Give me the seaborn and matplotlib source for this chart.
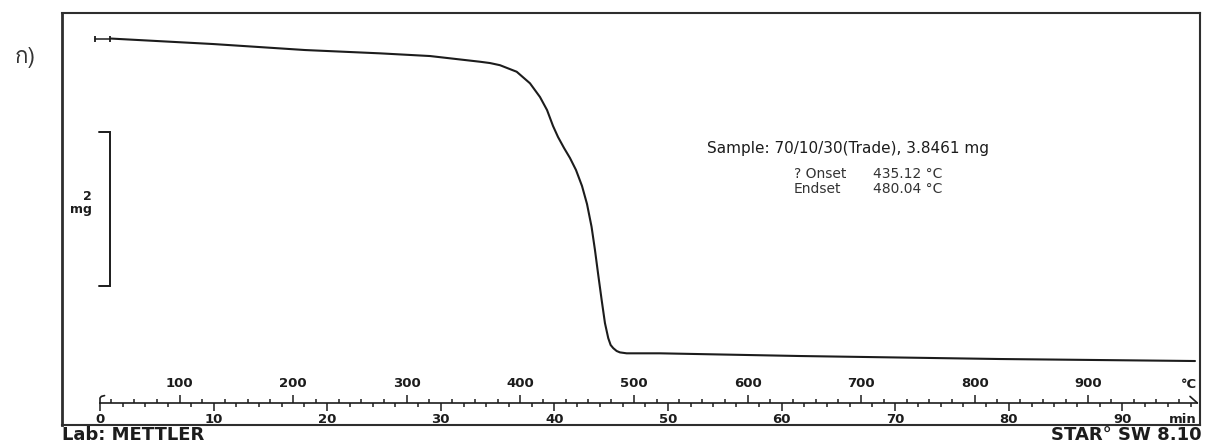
import numpy as np
import pandas as pd
import matplotlib
matplotlib.use("Agg")
import matplotlib.pyplot as plt
import seaborn as sns
from matplotlib import font_manager
from matplotlib.ft2font import FT2Font
from matplotlib.ticker import FixedLocator

# ---- TGA data: sample 70/10/30 (Trade) -------------------------------------
temperature_c = [39.7, 129.5, 210.5, 276.5, 320.5, 364.5, 373.3, 382.1, 396.8,
                 408.5, 417.3, 423.5, 428.8, 433.2, 438.5, 443.7, 449.0, 454.3,
                 458.7, 462.7, 465.7, 468.6, 471.6, 474.5, 477.4, 479.5, 481.8,
                 484.8, 487.7, 493.6, 522.9, 646.0, 822.0, 993.9]
mass_mg = [4.406, 4.335, 4.257, 4.214, 4.179, 4.105, 4.088, 4.060, 3.975,
           3.825, 3.647, 3.478, 3.270, 3.127, 2.984, 2.855, 2.699, 2.491,
           2.257, 1.962, 1.660, 1.335, 1.010, 0.710, 0.515, 0.426, 0.385,
           0.348, 0.330, 0.318, 0.318, 0.283, 0.244, 0.218]

temp_major = [100, 200, 300, 400, 500, 600, 700, 800, 900]
time_major = [0, 10, 20, 30, 40, 50, 60, 70, 80, 90]
start_temp = 30.0        # °C at t = 0
heating_rate = 10.0      # °C / min
scale_end_temp = 996.0   # end of the temperature/time scale
scale_bar_mg = 2.0
scale_bar_bottom = 1.19

sample_label = "Sample: 70/10/30(Trade), 3.8461 mg"
onset_label, onset_value = "? Onset", "435.12 °C"
endset_label, endset_value = "Endset", "480.04 °C"

# ---- style -----------------------------------------------------------------
sns.set_style("white")
plt.rcParams["font.family"] = ["DejaVu Sans"]
INK = "#1c1c1c"
FRAME = "#2e2e2e"

W, H = 1205, 444
fig = plt.figure(figsize=(W / 100, H / 100), dpi=100)
fig.patch.set_facecolor("white")


def fx(px):
    return px / W


def fy(py):
    return 1 - py / H


# plotting frame
left, right, top, bottom = 62, 1200, 13, 425
ax = fig.add_axes([fx(left), fy(bottom), fx(right - left), (bottom - top) / H])

df = pd.DataFrame({"Temperature (°C)": temperature_c, "Mass (mg)": mass_mg})
sns.lineplot(data=df, x="Temperature (°C)", y="Mass (mg)", ax=ax,
             color=INK, linewidth=1.5, sort=False)

ax.set_xlim(-3.45, 998.3)
ax.set_ylim(-0.613, 4.738)
ax.set_xticks([])
ax.set_yticks([])
ax.set_xlabel("")
ax.set_ylabel("")
for name, sp in ax.spines.items():
    sp.set_visible(True)
    sp.set_color(FRAME)
    sp.set_linewidth(1.5 if name != "left" else 2.0)

# start marker on the curve
m0 = mass_mg[0]
ax.plot([temperature_c[0] - 14.5, temperature_c[0] - 1.0], [m0, m0],
        color=INK, linewidth=1.1, marker="|", markersize=5, markeredgewidth=1.3)

# vertical mass scale bar
bx, bx_tick = 38.8, 29.1
ax.plot([bx_tick, bx, bx, bx_tick],
        [scale_bar_bottom + scale_bar_mg, scale_bar_bottom + scale_bar_mg,
         scale_bar_bottom, scale_bar_bottom],
        color=INK, linewidth=1.4, solid_joinstyle="miter")
ax.text(23.0, scale_bar_bottom + scale_bar_mg / 2 + 0.08,
        f"{scale_bar_mg:g}\nmg", ha="right", va="center",
        multialignment="right", fontsize=9, fontweight="bold", color=INK,
        linespacing=1.0)

# ---- temperature / time scale inside the frame ------------------------------
axis_pos = (bottom - 403) / (bottom - top)

sec_t = ax.secondary_xaxis(axis_pos)
sec_t.set_alignment("top")
sec_t.set_xticks(temp_major)
sec_t.set_xticklabels([str(v) for v in temp_major])
sec_t.xaxis.set_minor_locator(FixedLocator(np.arange(40, 990, 20)))
sec_t.tick_params(axis="x", which="major", direction="out", length=5.5,
                  width=1.1, pad=3.5, labelsize=9.5, colors=INK)
sec_t.tick_params(axis="x", which="minor", direction="out", length=3.0,
                  width=1.1, colors=INK)
for t in sec_t.xaxis.get_ticklabels():
    t.set_fontweight("bold")
sec_t.spines["top"].set_bounds(start_temp, scale_end_temp)
sec_t.spines["top"].set_color(INK)
sec_t.spines["top"].set_linewidth(1.2)
sec_t.spines["bottom"].set_visible(False)

to_min = (lambda T: (np.asarray(T) - start_temp) / heating_rate,
          lambda t: start_temp + heating_rate * np.asarray(t))
sec_m = ax.secondary_xaxis(axis_pos, functions=to_min)
sec_m.set_alignment("bottom")
sec_m.set_xticks(time_major)
sec_m.set_xticklabels([str(v) for v in time_major])
sec_m.xaxis.set_minor_locator(FixedLocator(np.arange(2, 97, 2)))
sec_m.tick_params(axis="x", which="major", direction="out", length=5.5,
                  width=1.1, pad=2.0, labelsize=9.5, colors=INK)
sec_m.tick_params(axis="x", which="minor", direction="out", length=3.0,
                  width=1.1, colors=INK)
for t in sec_m.xaxis.get_ticklabels():
    t.set_fontweight("bold")
for sp in sec_m.spines.values():
    sp.set_visible(False)

# start hook and end stroke of the scale
xt = ax.get_xaxis_transform()
ax.plot([start_temp, start_temp, start_temp + 1.2, start_temp + 4.0],
        [axis_pos, axis_pos + 0.012, axis_pos + 0.016, axis_pos + 0.018],
        color=INK, linewidth=1.2, transform=xt, clip_on=False)
ax.plot([scale_end_temp - 6.5, scale_end_temp],
        [axis_pos + 0.016, axis_pos], color=INK, linewidth=1.2,
        transform=xt, clip_on=False)

ax.text(scale_end_temp - 7, axis_pos + 0.046, "°C", transform=xt,
        ha="center", va="center", fontsize=9.5, fontweight="bold", color=INK)
ax.text(scale_end_temp - 13, axis_pos - 0.039, "min", transform=xt,
        ha="center", va="center", fontsize=9.5, fontweight="bold", color=INK)

# ---- annotations ------------------------------------------------------------
fig.text(fx(707), fy(149), sample_label, ha="left", va="center",
         fontsize=11, color=INK)
fig.text(fx(794), fy(174), onset_label, ha="left", va="center",
         fontsize=10, color="#333333")
fig.text(fx(873), fy(174), onset_value, ha="left", va="center",
         fontsize=10, color="#333333")
fig.text(fx(794), fy(189), endset_label, ha="left", va="center",
         fontsize=10, color="#333333")
fig.text(fx(873), fy(189), endset_value, ha="left", va="center",
         fontsize=10, color="#333333")

fig.text(fx(62), fy(435), "Lab: METTLER", ha="left", va="center",
         fontsize=13, fontweight="bold", color=INK)
fig.text(fx(1202), fy(435), "STAR\u00b0 SW 8.10", ha="right", va="center",
         fontsize=13, fontweight="bold", color=INK)


def family_with(ch):
    for f in font_manager.fontManager.ttflist:
        try:
            if ord(ch) in FT2Font(f.fname).get_charmap():
                return f.name
        except Exception:
            continue
    return None


thai = family_with("\u0e01")
fams = [thai, "DejaVu Sans"] if thai else ["DejaVu Sans"]
fig.text(fx(25), fy(58), "\u0e01)", ha="center", va="center",
         fontsize=16, color="#333333", family=fams)

fig.savefig("out.png", dpi=100, facecolor="white")
